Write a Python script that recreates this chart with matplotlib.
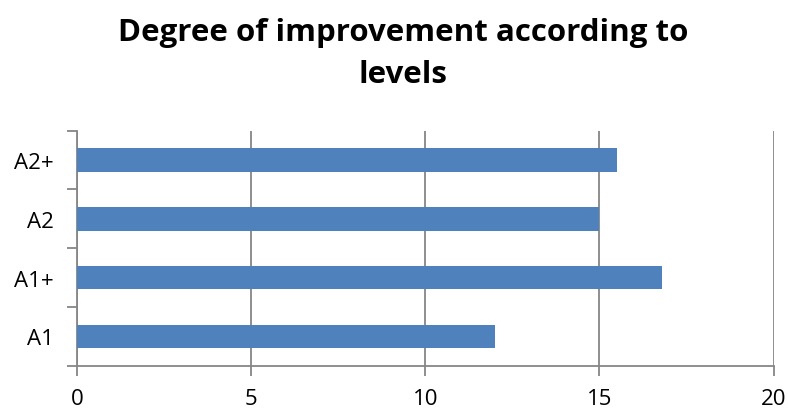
import matplotlib
matplotlib.use("Agg")
import matplotlib.pyplot as plt
import numpy as np

plt.rcParams['font.family'] = ['Open Sans', 'DejaVu Sans']

# data
levels = ['A1', 'A1+', 'A2', 'A2+']
improvement = [12.0, 16.8, 15.0, 15.5]
x_ticks = [0, 5, 10, 15, 20]

bar_color = '#4f81bd'
axis_grey = '#868686'

fig = plt.figure(figsize=(7.88, 4.10), dpi=100)
ax = fig.add_axes([0.0977, 0.1056, 0.9836 - 0.0977 - 0.002, 0.679 - 0.1056])

y = np.arange(len(levels))
ax.barh(y, improvement, height=0.4, color=bar_color, zorder=3)

ax.set_xlim(0, 20)
ax.set_ylim(-0.5, len(levels) - 0.5)
ax.set_xticks(x_ticks)
ax.set_xticklabels([str(t) for t in x_ticks], fontsize=16)
ax.set_yticks(y)
ax.set_yticklabels(levels, fontsize=16)

# ticks sit on the category boundaries, labels in the middle
ax.set_yticks(np.arange(len(levels) + 1) - 0.5, minor=True)
ax.tick_params(axis='y', which='major', length=0, pad=17)
ax.tick_params(axis='y', which='minor', length=7, color=axis_grey, width=1.3)
ax.tick_params(axis='x', length=7, color=axis_grey, width=1.3, pad=9)

ax.grid(axis='x', color=axis_grey, linewidth=1.3, zorder=0)
for side in ['top', 'right']:
    ax.spines[side].set_visible(False)
for side in ['left', 'bottom']:
    ax.spines[side].set_color(axis_grey)
    ax.spines[side].set_linewidth(1.3)

fig.text(0.512, 0.868, 'Degree of improvement according to\nlevels',
         ha='center', va='center', fontsize=22.5, fontweight='bold',
         linespacing=1.5)

fig.savefig('out.png', dpi=100)
